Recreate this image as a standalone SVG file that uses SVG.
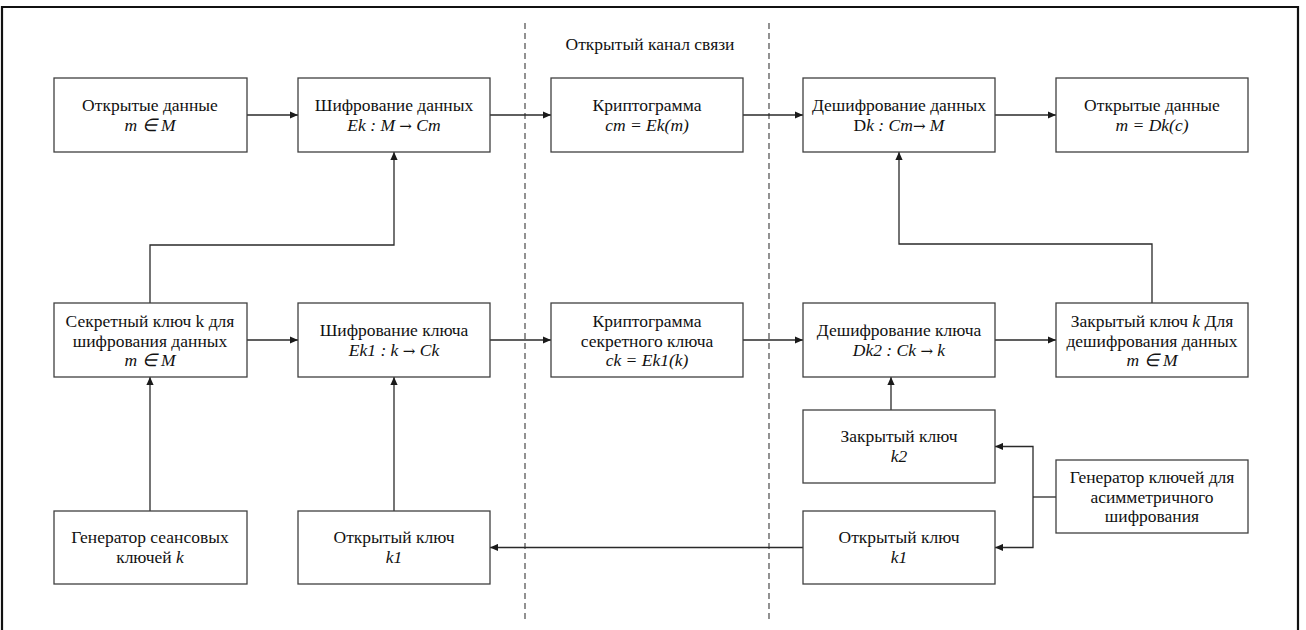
<svg xmlns="http://www.w3.org/2000/svg" width="1306" height="630" viewBox="0 0 1306 630">
<defs>
<marker id="ah" viewBox="0 0 10 10" refX="10" refY="5" markerWidth="8" markerHeight="8" markerUnits="userSpaceOnUse" orient="auto">
<path d="M0,0.5 L10,5 L0,9.5 Z" fill="#1a1a1a"/>
</marker>
<style>
.box{fill:#fff;stroke:#404040;stroke-width:1.3}
.t{font-family:"Liberation Serif","Times New Roman",serif;font-size:17.5px;fill:#111;text-anchor:middle}
.i{font-style:italic}
.ar{font-family:"DejaVu Serif",serif;font-style:normal;font-size:15px}
.c{fill:none;stroke:#2a2a2a;stroke-width:1.3}
.a{marker-end:url(#ah)}
.d{fill:none;stroke:#4a4a4a;stroke-width:1.2;stroke-dasharray:6 4}
</style>
</defs>
<rect x="0" y="0" width="1306" height="630" fill="#fff"/>
<path d="M2,636 V7 H1298 V636" fill="none" stroke="#111" stroke-width="2.2"/>

<g id="channel">
<line class="d" x1="525" y1="23" x2="525" y2="620"/>
<line class="d" x1="769" y1="23" x2="769" y2="620"/>
<text class="t" x="650" y="50">Открытый канал связи</text>
</g>

<g id="connectors">
<line class="c a" x1="247" y1="115" x2="298" y2="115"/>
<line class="c a" x1="490" y1="115" x2="551" y2="115"/>
<line class="c a" x1="743" y1="115" x2="803" y2="115"/>
<line class="c a" x1="995" y1="115" x2="1056" y2="115"/>
<polyline class="c a" points="150,303 150,245 394,245 394,152"/>
<polyline class="c a" points="1152,303 1152,244 899,244 899,152"/>
<line class="c a" x1="247" y1="340" x2="298" y2="340"/>
<line class="c a" x1="490" y1="340" x2="551" y2="340"/>
<line class="c a" x1="743" y1="340" x2="803" y2="340"/>
<line class="c a" x1="995" y1="340" x2="1056" y2="340"/>
<line class="c a" x1="150" y1="511" x2="150" y2="377"/>
<line class="c a" x1="394" y1="511" x2="394" y2="377"/>
<line class="c a" x1="891" y1="410" x2="891" y2="377"/>
<line class="c a" x1="803" y1="547.5" x2="490" y2="547.5"/>
<line class="c" x1="1056" y1="497" x2="1033" y2="497"/>
<polyline class="c a" points="1033,497 1033,446.5 995,446.5"/>
<polyline class="c a" points="1033,497 1033,547.5 995,547.5"/>
</g>

<g id="n1">
<rect class="box" x="54" y="78" width="193" height="74"/>
<text class="t" x="150" y="111">Открытые данные</text>
<text class="t i" x="150" y="131">m ∈ M</text>
</g>
<g id="n2">
<rect class="box" x="298" y="78" width="192" height="74"/>
<text class="t" x="394" y="111">Шифрование данных</text>
<text class="t i" x="394" y="131">Ek : M <tspan class="ar">→</tspan> Cm</text>
</g>
<g id="n3">
<rect class="box" x="551" y="78" width="192" height="74"/>
<text class="t" x="647" y="111">Криптограмма</text>
<text class="t i" x="647" y="131">cm = Ek(m)</text>
</g>
<g id="n4">
<rect class="box" x="803" y="78" width="192" height="74"/>
<text class="t" x="899" y="111">Дешифрование данных</text>
<text class="t" x="899" y="131">D<tspan class="i">k : Cm</tspan><tspan class="ar">→</tspan><tspan class="i"> M</tspan></text>
</g>
<g id="n5">
<rect class="box" x="1056" y="78" width="192" height="74"/>
<text class="t" x="1152" y="111">Открытые данные</text>
<text class="t i" x="1152" y="131">m = Dk(c)</text>
</g>

<g id="n6">
<rect class="box" x="54" y="303" width="193" height="74"/>
<text class="t" x="150" y="327">Секретный ключ k для</text>
<text class="t" x="150" y="346.5">шифрования данных</text>
<text class="t i" x="150" y="366">m ∈ M</text>
</g>
<g id="n7">
<rect class="box" x="298" y="303" width="192" height="74"/>
<text class="t" x="394" y="336">Шифрование ключа</text>
<text class="t i" x="394" y="356">Ek1 : k <tspan class="ar">→</tspan> Ck</text>
</g>
<g id="n8">
<rect class="box" x="551" y="303" width="192" height="74"/>
<text class="t" x="647" y="327">Криптограмма</text>
<text class="t" x="647" y="346.5">секретного ключа</text>
<text class="t i" x="647" y="366">ck = Ek1(k)</text>
</g>
<g id="n9">
<rect class="box" x="803" y="303" width="192" height="74"/>
<text class="t" x="899" y="336">Дешифрование ключа</text>
<text class="t i" x="899" y="356">Dk2 : Ck <tspan class="ar">→</tspan> k</text>
</g>
<g id="n10">
<rect class="box" x="1056" y="303" width="192" height="74"/>
<text class="t" x="1152" y="327">Закрытый ключ <tspan class="i">k</tspan> Для</text>
<text class="t" x="1152" y="346.5">дешифрования данных</text>
<text class="t i" x="1152" y="366">m ∈ M</text>
</g>

<g id="n11">
<rect class="box" x="803" y="410" width="192" height="73"/>
<text class="t" x="899" y="442">Закрытый ключ</text>
<text class="t i" x="899" y="462">k2</text>
</g>
<g id="n12">
<rect class="box" x="1056" y="460" width="192" height="73"/>
<text class="t" x="1152" y="483">Генератор ключей для</text>
<text class="t" x="1152" y="502.5">асимметричного</text>
<text class="t" x="1152" y="522">шифрования</text>
</g>

<g id="n13">
<rect class="box" x="54" y="511" width="193" height="73"/>
<text class="t" x="150" y="543">Генератор сеансовых</text>
<text class="t" x="150" y="563">ключей <tspan class="i">k</tspan></text>
</g>
<g id="n14">
<rect class="box" x="298" y="511" width="192" height="73"/>
<text class="t" x="394" y="543">Открытый ключ</text>
<text class="t i" x="394" y="563">k1</text>
</g>
<g id="n15">
<rect class="box" x="803" y="511" width="192" height="73"/>
<text class="t" x="899" y="543">Открытый ключ</text>
<text class="t i" x="899" y="563">k1</text>
</g>
</svg>
